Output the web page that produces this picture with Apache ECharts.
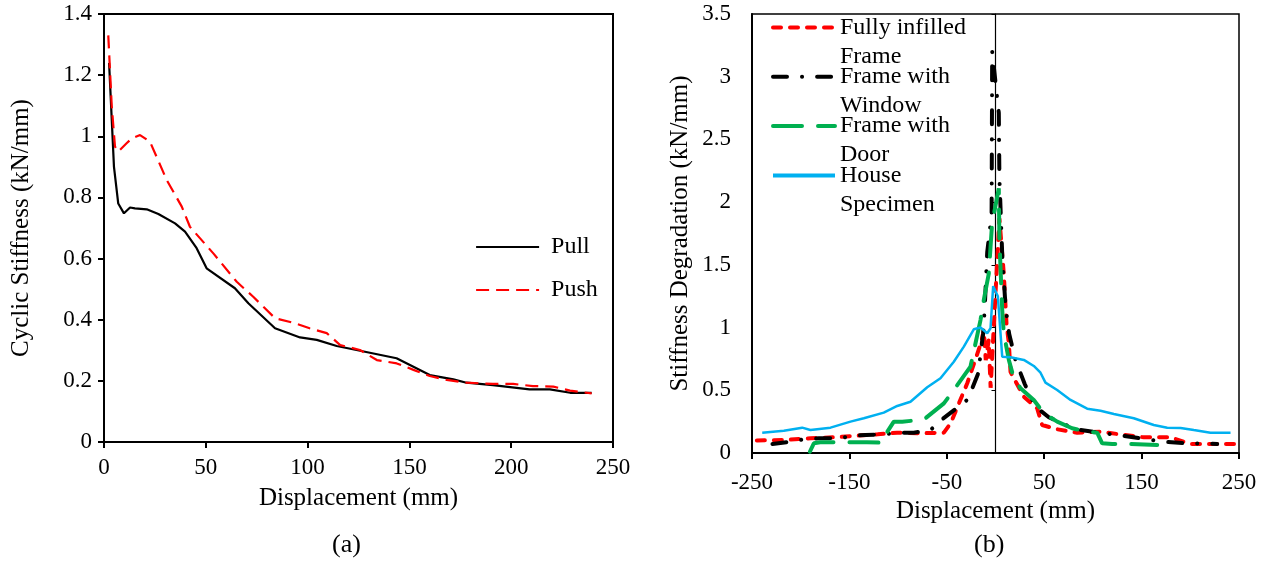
<!DOCTYPE html>
<html>
<head>
<meta charset="utf-8">
<script src="https://cdn.jsdelivr.net/npm/echarts@6/dist/echarts.min.js"></script>
<style>
  html, body { margin: 0; padding: 0; background: #fff; }
  #chart { width: 1272px; height: 563px; }
</style>
</head>
<body>
<div id="chart"></div>
<script>
// (a) cyclic stiffness vs displacement, [mm, kN/mm]
const pullData = [
  [2.5, 1.24], [4.9, 0.90], [7.0, 0.78], [9.8, 0.748], [12.8, 0.767], [15.2, 0.764],
  [21, 0.761], [26.7, 0.746], [34.9, 0.715], [39.8, 0.688], [45.5, 0.634], [50.4, 0.568],
  [64.3, 0.503], [70.9, 0.454], [84, 0.372], [96.3, 0.342], [104.5, 0.334], [114.3, 0.314],
  [124, 0.301], [143.7, 0.274], [160, 0.219], [171.6, 0.205], [178, 0.194], [191, 0.186],
  [209, 0.172], [219, 0.172], [229, 0.161], [239.5, 0.161]
];
const pushData = [
  [2.1, 1.33], [3.8, 1.10], [5.4, 0.966], [7.0, 0.95], [11.1, 0.977], [13.6, 0.993],
  [17.7, 1.004], [22.6, 0.982], [30.8, 0.857], [38.2, 0.77], [42.2, 0.704], [53.7, 0.617],
  [65.2, 0.524], [73.3, 0.475], [84, 0.405], [93, 0.39], [101, 0.372], [109.4, 0.356],
  [116, 0.317], [125.7, 0.301], [134, 0.268], [143.8, 0.257], [152, 0.236], [160, 0.216],
  [168.3, 0.203], [178, 0.194], [191, 0.19], [201, 0.19], [210.7, 0.183], [220.7, 0.181],
  [228.9, 0.168], [239.5, 0.159]
];

// (b) stiffness degradation, [mm, kN/mm]
const fullyInfilled = [
  [-245, 0.10], [-217, 0.104], [-190, 0.117], [-166, 0.125], [-121, 0.149], [-101, 0.162],
  [-80, 0.157], [-53, 0.162], [-46, 0.237], [-39, 0.369], [-29, 0.556], [-22, 0.715],
  [-15, 0.875], [-12, 0.98], [-10, 0.74], [-7, 0.90], [-5, 0.52], [4, 1.87], [8.5, 1.43],
  [11.3, 1.03], [13.7, 0.875], [15.4, 0.648], [18.8, 0.596], [29.1, 0.449], [42.8, 0.356],
  [47.9, 0.223], [63.3, 0.189], [83.9, 0.162], [107.8, 0.17], [131.7, 0.144], [152.3, 0.125],
  [179.7, 0.125], [200.2, 0.072], [227.6, 0.072], [250, 0.072]
];
const frameWindow = [
  [-229, 0.072], [-210.5, 0.09], [-196.8, 0.109], [-181.4, 0.117], [-159.1, 0.117],
  [-148.9, 0.136], [-133.5, 0.144], [-114.7, 0.149], [-100.9, 0.162], [-83.9, 0.162],
  [-66.7, 0.183], [-56.5, 0.258], [-29.1, 0.423], [-23.9, 0.516], [-17.1, 0.648],
  [-15.4, 0.795], [-12.6, 0.955], [-11, 1.17], [-8.5, 1.6], [-4, 1.9], [-3.4, 3.2],
  [3.4, 2.71], [4, 2.2], [6.9, 1.58], [10.3, 1.17], [14, 0.95], [20.5, 0.742], [30, 0.55],
  [41.1, 0.369], [54.7, 0.285], [82.1, 0.189], [100, 0.17], [124.9, 0.144], [148.9, 0.117],
  [172.8, 0.09], [196.8, 0.077], [227.6, 0.072]
];
const frameDoor = [
  [-190.6, 0.01], [-186.5, 0.077], [-180, 0.085], [-132, 0.085], [-116, 0.082],
  [-111, 0.17], [-104.4, 0.25], [-95.8, 0.25], [-77, 0.263], [-71.9, 0.277], [-53, 0.396],
  [-42.8, 0.502], [-25.7, 0.688], [-15.4, 1.06], [-12, 1.22], [-6.9, 1.43], [-3.5, 1.83],
  [3.4, 2.11], [4, 1.7], [6.9, 1.14], [8.5, 0.955], [13.7, 0.742], [18.8, 0.596],
  [25.7, 0.516], [39.3, 0.423], [49.6, 0.317], [63.3, 0.25], [78.7, 0.197], [94.1, 0.17],
  [104.4, 0.162], [109.5, 0.077], [119.8, 0.072], [136.9, 0.072], [166, 0.064]
];
const houseSpecimen = [
  [-239.5, 0.162], [-217.3, 0.178], [-198.5, 0.202], [-190, 0.183], [-169.4, 0.202],
  [-148.9, 0.25], [-135.2, 0.277], [-114.7, 0.322], [-100.9, 0.375], [-87.3, 0.409],
  [-70.1, 0.524], [-56.5, 0.596], [-42.8, 0.728], [-32.5, 0.848], [-22.3, 0.986],
  [-15.4, 1.0], [-8.5, 0.955], [-5.1, 0.994], [-2.4, 1.33], [2.4, 1.25], [6.9, 0.768],
  [15.4, 0.763], [29.1, 0.742], [39.3, 0.694], [46.2, 0.64], [51.3, 0.561], [63.3, 0.502],
  [77, 0.423], [94.1, 0.353], [107.8, 0.337], [121.5, 0.311], [142, 0.277], [162.5, 0.223],
  [176.3, 0.202], [190, 0.2], [203.6, 0.183], [220.7, 0.162], [241.3, 0.162]
];

const namesA = ['Pull', 'Push'];
const namesB = ['Fully infilled Frame', 'Frame with Window', 'Frame with Door', 'House Specimen'];
// legend text wraps like the original: [first line, second line]
const legendLinesB = {
  'Fully infilled Frame': ['Fully infilled', 'Frame'],
  'Frame with Window': ['Frame with', 'Window'],
  'Frame with Door': ['Frame with', 'Door'],
  'House Specimen': ['House', 'Specimen']
};

const FONT = 'Liberation Serif';
const txt = { fontFamily: FONT, color: '#000' };

const chart = echarts.init(document.getElementById('chart'));

// width of grid (b), used to put the zero line in the middle
const gridBWidth = 487;

const option = {
  animation: false,
  textStyle: { fontFamily: FONT },
  grid: [
    { left: 104, top: 14, width: 509, height: 428, show: true, borderColor: '#000', borderWidth: 2 },
    { left: 752, top: 14, width: gridBWidth, height: 439, show: true, borderColor: '#000', borderWidth: 1.5 }
  ],
  legend: [
    {
      data: namesA,
      orient: 'vertical',
      left: 475, top: 235,
      padding: 0,
      itemWidth: 63, itemHeight: 14, itemGap: 19,
      itemStyle: { opacity: 0 },
      lineStyle: { width: 2.2 },
      textStyle: { ...txt, fontSize: 24, lineHeight: 24, padding: [0, 0, 0, 7] }
    },
    {
      data: namesB,
      orient: 'vertical',
      left: 771, top: -13.5,
      padding: 0,
      itemWidth: 62, itemHeight: 14, itemGap: -32.7,
      itemStyle: { opacity: 0 },
      lineStyle: { width: 4 },
      // blank first line keeps the symbol level with the first text line
      formatter: name => '{p| }\n{t|' + legendLinesB[name][0] + '}\n{t|' + legendLinesB[name][1] + '}',
      textStyle: {
        ...txt, fontSize: 24,
        rich: {
          p: { fontFamily: FONT, fontSize: 24, lineHeight: 29 },
          t: { fontFamily: FONT, fontSize: 24, lineHeight: 29, color: '#000' }
        }
      }
    }
  ],
  xAxis: [
    {
      gridIndex: 0, type: 'value', min: 0, max: 250, interval: 50,
      name: 'Displacement (mm)', nameLocation: 'middle', nameGap: 44,
      nameTextStyle: { ...txt, fontSize: 25 },
      axisLine: { lineStyle: { color: '#000', width: 2 } },
      axisTick: { length: 6, lineStyle: { color: '#000', width: 2 } },
      axisLabel: { ...txt, fontSize: 23, margin: 14 },
      splitLine: { show: false }
    },
    {
      gridIndex: 1, type: 'value', min: -250, max: 250, interval: 100,
      name: 'Displacement (mm)', nameLocation: 'middle', nameGap: 41,
      nameTextStyle: { ...txt, fontSize: 25 },
      axisLine: { onZero: false, lineStyle: { color: '#000', width: 2 } },
      axisTick: { length: 6, lineStyle: { color: '#000', width: 2 } },
      axisLabel: { ...txt, fontSize: 23, margin: 18 },
      splitLine: { show: false }
    }
  ],
  yAxis: [
    {
      gridIndex: 0, type: 'value', min: 0, max: 1.4, interval: 0.2,
      name: 'Cyclic Stiffness (kN/mm)', nameLocation: 'middle', nameGap: 70,
      nameTextStyle: { ...txt, fontSize: 25 },
      axisLine: { lineStyle: { color: '#000', width: 2 } },
      axisTick: { length: 6, lineStyle: { color: '#000', width: 2 } },
      axisLabel: { ...txt, fontSize: 23, margin: 12 },
      splitLine: { show: false }
    },
    {
      gridIndex: 1, type: 'value', min: 0, max: 3.5, interval: 0.5,
      name: 'Stiffness Degradation (kN/mm)', nameLocation: 'middle', nameGap: 59,
      nameTextStyle: { ...txt, fontSize: 25 },
      axisLine: { onZero: false, lineStyle: { color: '#000', width: 2 } },
      axisTick: { show: false },
      axisLabel: { ...txt, fontSize: 23, margin: 21 },
      splitLine: { show: false }
    },
    {
      // vertical line at x = 0 with its small ticks
      gridIndex: 1, type: 'value', min: 0, max: 3.5, interval: 0.5,
      position: 'left', offset: -gridBWidth / 2,
      axisLine: { onZero: false, lineStyle: { color: '#000', width: 1.2 } },
      axisTick: { length: 4, lineStyle: { color: '#000', width: 1 } },
      axisLabel: { show: false },
      splitLine: { show: false }
    }
  ],
  series: [
    {
      name: 'Pull', type: 'line', xAxisIndex: 0, yAxisIndex: 0,
      data: pullData, symbol: 'none', color: '#000',
      lineStyle: { width: 2.2, color: '#000' }
    },
    {
      name: 'Push', type: 'line', xAxisIndex: 0, yAxisIndex: 0,
      data: pushData, symbol: 'none', color: '#ff0000',
      lineStyle: { width: 2.2, color: '#ff0000', type: [13, 7] }
    },
    {
      name: 'Fully infilled Frame', type: 'line', xAxisIndex: 1, yAxisIndex: 1,
      data: fullyInfilled, symbol: 'none', color: '#ff0000',
      lineStyle: { width: 4, color: '#ff0000', type: [8, 9], cap: 'round' }
    },
    {
      name: 'Frame with Window', type: 'line', xAxisIndex: 1, yAxisIndex: 1,
      data: frameWindow, symbol: 'none', color: '#000',
      lineStyle: { width: 4, color: '#000', type: [14, 15, 0.1, 15], cap: 'round' }
    },
    {
      name: 'Frame with Door', type: 'line', xAxisIndex: 1, yAxisIndex: 1,
      data: frameDoor, symbol: 'none', color: '#00b050',
      lineStyle: { width: 4, color: '#00b050', type: [29, 16], cap: 'round' }
    },
    {
      name: 'House Specimen', type: 'line', xAxisIndex: 1, yAxisIndex: 1,
      data: houseSpecimen, symbol: 'none', color: '#00b0f0',
      lineStyle: { width: 2.5, color: '#00b0f0' }
    }
  ],
  graphic: [
    { type: 'text', left: 332, top: 532, style: { text: '(a)', font: '26px "Liberation Serif"', fill: '#000' } },
    { type: 'text', left: 974, top: 532, style: { text: '(b)', font: '26px "Liberation Serif"', fill: '#000' } }
  ]
};

chart.setOption(option);
window.addEventListener('resize', () => chart.resize());
</script>
</body>
</html>
